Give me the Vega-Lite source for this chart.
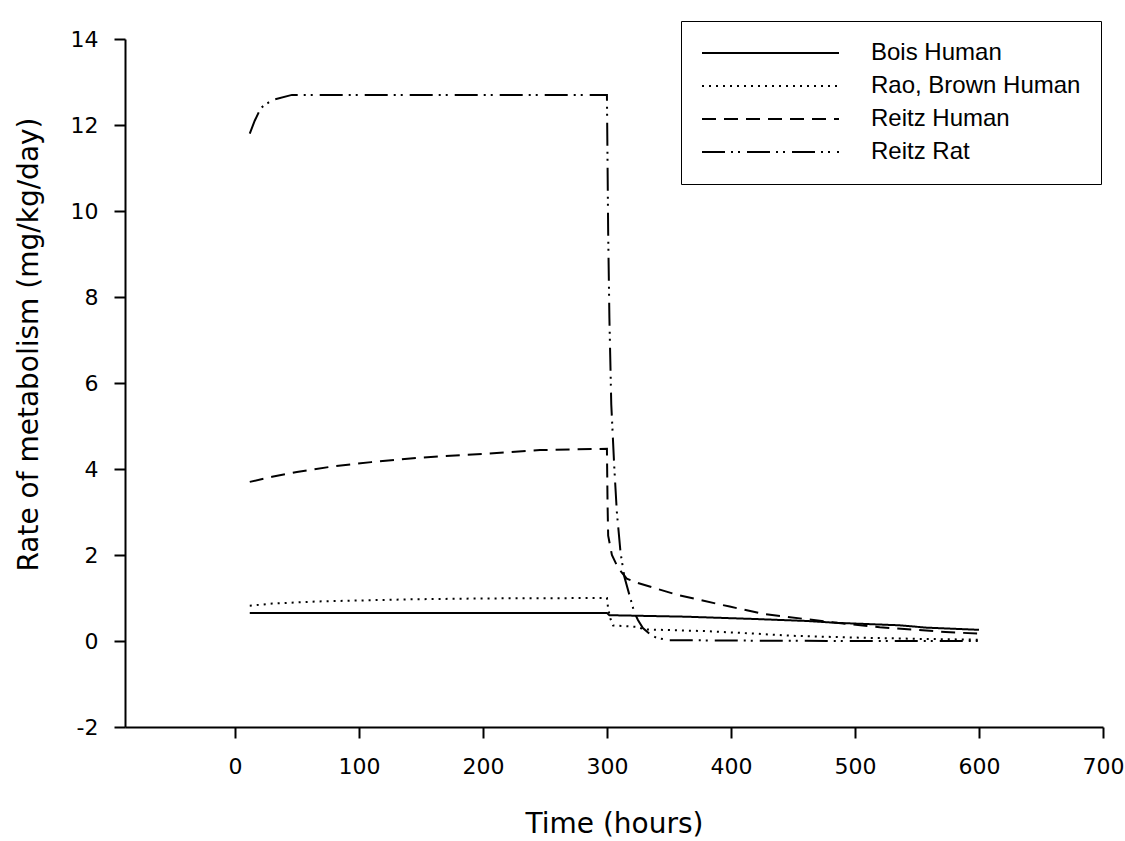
{
  "$schema": "https://vega.github.io/schema/vega-lite/v6.json",
  "width": 978,
  "height": 688,
  "autosize": {"type": "none"},
  "padding": {"left": 125, "top": 39, "right": 22, "bottom": 114},
  "background": "white",
  "config": {"view": {"stroke": null}},
  "data": {"values": [
    {"series": "Bois Human", "time": 12, "rate": 0.65},
    {"series": "Bois Human", "time": 100, "rate": 0.65},
    {"series": "Bois Human", "time": 200, "rate": 0.65},
    {"series": "Bois Human", "time": 300, "rate": 0.65},
    {"series": "Bois Human", "time": 302, "rate": 0.60},
    {"series": "Bois Human", "time": 364, "rate": 0.565},
    {"series": "Bois Human", "time": 416, "rate": 0.515},
    {"series": "Bois Human", "time": 462, "rate": 0.465},
    {"series": "Bois Human", "time": 487, "rate": 0.42},
    {"series": "Bois Human", "time": 536, "rate": 0.365},
    {"series": "Bois Human", "time": 558, "rate": 0.31},
    {"series": "Bois Human", "time": 600, "rate": 0.26},

    {"series": "Rao, Brown Human", "time": 12, "rate": 0.82},
    {"series": "Rao, Brown Human", "time": 30, "rate": 0.87},
    {"series": "Rao, Brown Human", "time": 66, "rate": 0.92},
    {"series": "Rao, Brown Human", "time": 143, "rate": 0.97},
    {"series": "Rao, Brown Human", "time": 200, "rate": 0.99},
    {"series": "Rao, Brown Human", "time": 300, "rate": 1.0},
    {"series": "Rao, Brown Human", "time": 301, "rate": 0.75},
    {"series": "Rao, Brown Human", "time": 303, "rate": 0.5},
    {"series": "Rao, Brown Human", "time": 305, "rate": 0.36},
    {"series": "Rao, Brown Human", "time": 324, "rate": 0.33},
    {"series": "Rao, Brown Human", "time": 330, "rate": 0.27},
    {"series": "Rao, Brown Human", "time": 380, "rate": 0.23},
    {"series": "Rao, Brown Human", "time": 420, "rate": 0.17},
    {"series": "Rao, Brown Human", "time": 450, "rate": 0.12},
    {"series": "Rao, Brown Human", "time": 500, "rate": 0.08},
    {"series": "Rao, Brown Human", "time": 550, "rate": 0.05},
    {"series": "Rao, Brown Human", "time": 600, "rate": 0.03},

    {"series": "Reitz Human", "time": 12, "rate": 3.70},
    {"series": "Reitz Human", "time": 30, "rate": 3.82},
    {"series": "Reitz Human", "time": 50, "rate": 3.93},
    {"series": "Reitz Human", "time": 79, "rate": 4.06},
    {"series": "Reitz Human", "time": 110, "rate": 4.16},
    {"series": "Reitz Human", "time": 147, "rate": 4.26},
    {"series": "Reitz Human", "time": 205, "rate": 4.36},
    {"series": "Reitz Human", "time": 246, "rate": 4.44},
    {"series": "Reitz Human", "time": 300, "rate": 4.47},
    {"series": "Reitz Human", "time": 300.5, "rate": 3.2},
    {"series": "Reitz Human", "time": 301, "rate": 2.45},
    {"series": "Reitz Human", "time": 304, "rate": 2.0},
    {"series": "Reitz Human", "time": 309, "rate": 1.7},
    {"series": "Reitz Human", "time": 316, "rate": 1.45},
    {"series": "Reitz Human", "time": 325, "rate": 1.35},
    {"series": "Reitz Human", "time": 357, "rate": 1.07},
    {"series": "Reitz Human", "time": 399, "rate": 0.80},
    {"series": "Reitz Human", "time": 426, "rate": 0.63},
    {"series": "Reitz Human", "time": 480, "rate": 0.44},
    {"series": "Reitz Human", "time": 520, "rate": 0.32},
    {"series": "Reitz Human", "time": 573, "rate": 0.21},
    {"series": "Reitz Human", "time": 600, "rate": 0.17},

    {"series": "Reitz Rat", "time": 12, "rate": 11.8},
    {"series": "Reitz Rat", "time": 16, "rate": 12.1},
    {"series": "Reitz Rat", "time": 21, "rate": 12.4},
    {"series": "Reitz Rat", "time": 30, "rate": 12.58},
    {"series": "Reitz Rat", "time": 46, "rate": 12.7},
    {"series": "Reitz Rat", "time": 100, "rate": 12.7},
    {"series": "Reitz Rat", "time": 200, "rate": 12.7},
    {"series": "Reitz Rat", "time": 300, "rate": 12.7},
    {"series": "Reitz Rat", "time": 301, "rate": 9.5},
    {"series": "Reitz Rat", "time": 302, "rate": 7.5},
    {"series": "Reitz Rat", "time": 303.5, "rate": 5.5},
    {"series": "Reitz Rat", "time": 306, "rate": 4.0},
    {"series": "Reitz Rat", "time": 308, "rate": 3.0},
    {"series": "Reitz Rat", "time": 311, "rate": 2.05},
    {"series": "Reitz Rat", "time": 314, "rate": 1.5},
    {"series": "Reitz Rat", "time": 322, "rate": 0.67},
    {"series": "Reitz Rat", "time": 325, "rate": 0.49},
    {"series": "Reitz Rat", "time": 329, "rate": 0.30},
    {"series": "Reitz Rat", "time": 335, "rate": 0.15},
    {"series": "Reitz Rat", "time": 340, "rate": 0.07},
    {"series": "Reitz Rat", "time": 350, "rate": 0.02},
    {"series": "Reitz Rat", "time": 400, "rate": 0.01},
    {"series": "Reitz Rat", "time": 500, "rate": 0.0},
    {"series": "Reitz Rat", "time": 600, "rate": 0.0}
  ]},
  "mark": {"type": "line", "strokeWidth": 2, "color": "black"},
  "encoding": {
    "x": {
      "field": "time", "type": "quantitative",
      "scale": {"domain": [-88.6, 700], "nice": false, "zero": false},
      "axis": {
        "values": [0, 100, 200, 300, 400, 500, 600, 700],
        "grid": false,
        "domainColor": "black", "domainWidth": 2,
        "tickColor": "black", "tickWidth": 2, "tickSize": 11,
        "labelFont": "DejaVu Sans", "labelFontSize": 22, "labelColor": "black",
        "labelPadding": 18, "labelFlush": false,
        "title": "Time (hours)",
        "titleFont": "DejaVu Sans", "titleFontSize": 28, "titleFontWeight": "normal",
        "titleColor": "black", "titlePadding": 33
      }
    },
    "y": {
      "field": "rate", "type": "quantitative",
      "scale": {"domain": [-2, 14], "nice": false, "zero": false},
      "axis": {
        "values": [-2, 0, 2, 4, 6, 8, 10, 12, 14],
        "labelExpr": "datum.value + ''",
        "grid": false,
        "domainColor": "black", "domainWidth": 2,
        "tickColor": "black", "tickWidth": 2, "tickSize": 11,
        "labelFont": "DejaVu Sans", "labelFontSize": 22, "labelColor": "black",
        "labelPadding": 16, "labelFlush": false,
        "title": "Rate of metabolism (mg/kg/day)",
        "titleFont": "DejaVu Sans", "titleFontSize": 28, "titleFontWeight": "normal",
        "titleColor": "black", "titlePadding": 27, "titleY": 305
      }
    },
    "strokeDash": {
      "field": "series", "type": "nominal",
      "scale": {
        "domain": ["Bois Human", "Rao, Brown Human", "Reitz Human", "Reitz Rat"],
        "range": [[1, 0], [2, 5], [14, 8], [23, 6, 2, 5, 2, 7]]
      },
      "legend": {
        "orient": "none", "legendX": 556, "legendY": -18,
        "title": null,
        "symbolType": "stroke", "symbolSize": 18769,
        "symbolStrokeWidth": 2, "symbolStrokeColor": "black",
        "clipHeight": 24, "rowPadding": 9,
        "labelOffset": 31, "labelFont": "Liberation Sans", "labelFontSize": 24,
        "labelColor": "black", "labelLimit": 400,
        "strokeColor": "black", "fillColor": "white",
        "padding": 20
      }
    }
  }
}
